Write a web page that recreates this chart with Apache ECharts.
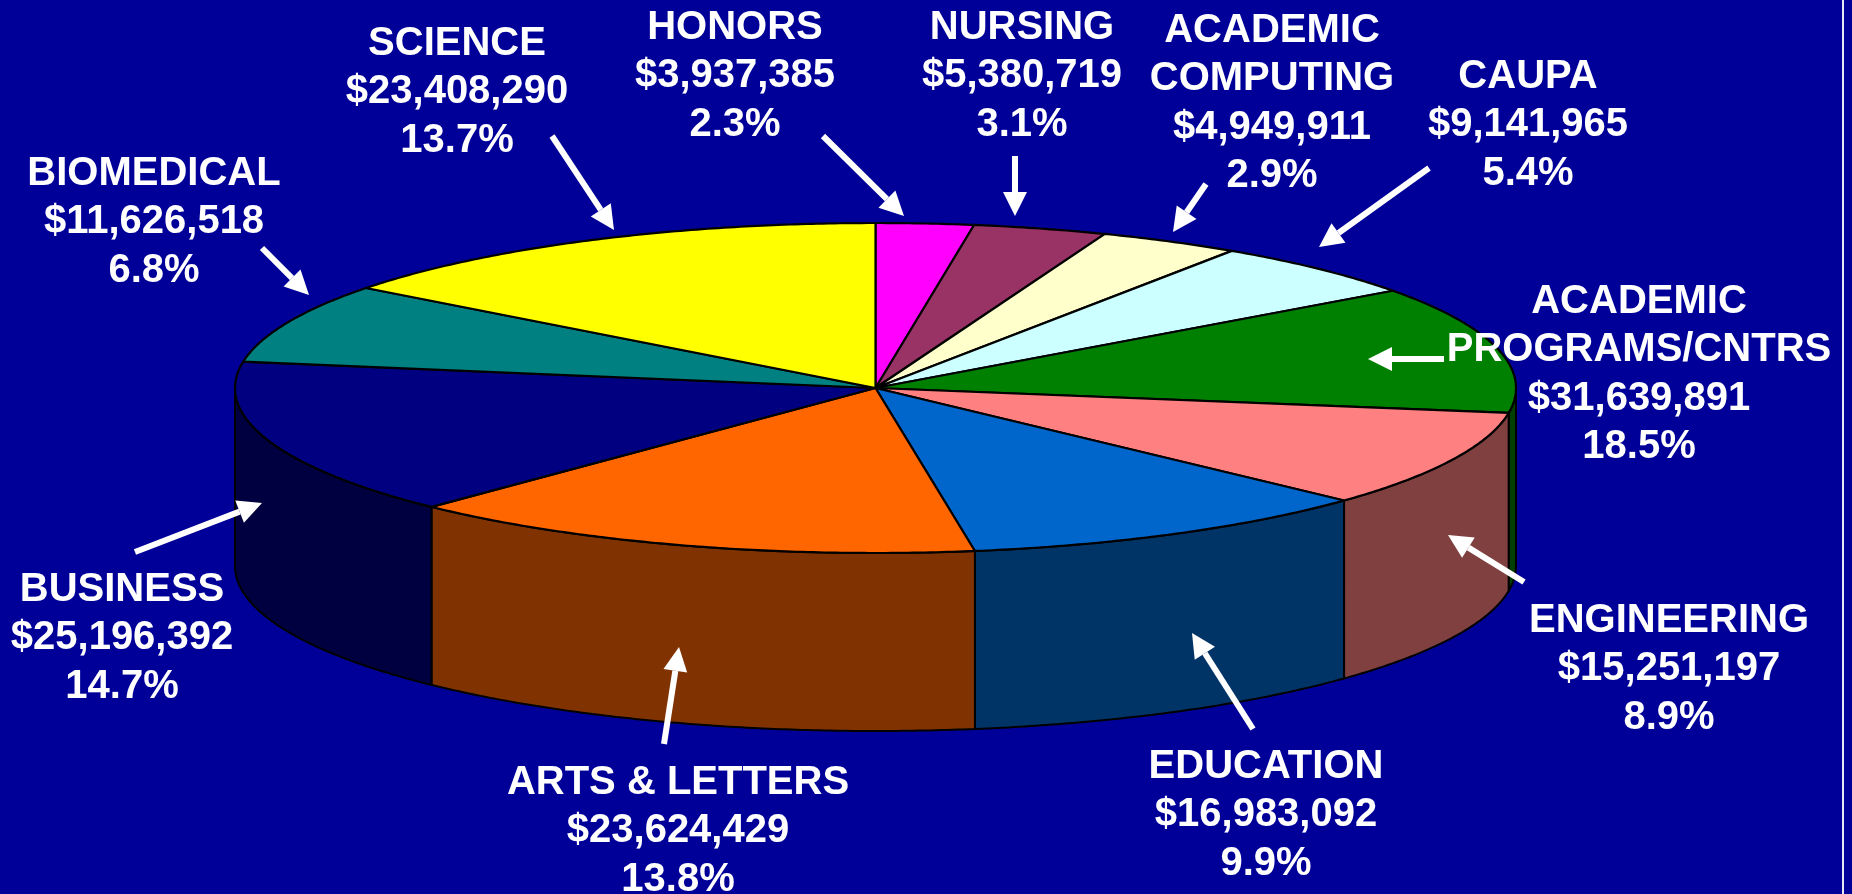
<!DOCTYPE html>
<html>
<head>
<meta charset="utf-8">
<style>html,body{margin:0;padding:0;background:#000099;overflow:hidden}#c{width:1852px;height:894px}</style>
<script src="https://cdn.jsdelivr.net/npm/echarts@6/dist/echarts.min.js"></script>
</head>
<body>
<div id="c"></div>
<script>
// Data, clockwise from 12 o'clock
const names = [['HONORS'],['NURSING'],['ACADEMIC','COMPUTING'],['CAUPA'],['ACADEMIC','PROGRAMS/CNTRS'],['ENGINEERING'],['EDUCATION'],['ARTS & LETTERS'],['BUSINESS'],['BIOMEDICAL'],['SCIENCE']];
const dollarLabels = ['$3,937,385','$5,380,719','$4,949,911','$9,141,965','$31,639,891','$15,251,197','$16,983,092','$23,624,429','$25,196,392','$11,626,518','$23,408,290'];
const percentLabels = ['2.3%','3.1%','2.9%','5.4%','18.5%','8.9%','9.9%','13.8%','14.7%','6.8%','13.7%'];
// Slice shares (%) as actually drawn in the picture
const sliceShares = [2.46,3.37,3.56,5.58,12.44,9.53,10.58,14.67,15.36,7.81,14.64];
const topColors = ['#FF00FF','#993366','#FFFFCC','#CCFFFF','#008000','#FF8080','#0066CC','#FF6600','#000080','#008080','#FFFF00'];
const wallColors = ['#800080','#4D1A33','#808066','#668080','#004000','#804040','#003366','#803300','#000040','#004040','#808000'];

// Layout
const cx = 875.5, cy = 388, rx = 640.5, ry = 165, depth = 178;
const labelAnchors = [[735,28],[1022,28],[1272,31],[1528,77],[1639,302],[1669,621],[1266,767],[678,783],[122,590],[154,174],[457,44]];
const arrows = [[823,136,904,216],[1015,156,1015,216],[1206,184,1173,232],[1429,168,1319,247],[1444,359,1368,359],[1524,582,1448,535],[1253,729,1192,633],[664,744,679,647],[135,552,262,503],[262,248,309,295],[552,136,614,230]];
const LINE = 48.3, FONT = 40;

const total = sliceShares.reduce((a,b)=>a+b,0);
let run = 0;
const spans = sliceShares.map(v => { const s = run; run += v; return [v, s/total*360, run/total*360]; });
const pt = (deg, dy) => { const t = deg*Math.PI/180; return [cx + rx*Math.sin(t), cy - ry*Math.cos(t) + (dy||0)]; };

function renderTop(params, api) {
  const a = api.value(1), b = api.value(2), pts = [[cx,cy]];
  for (let d = a; d < b; d += 0.5) pts.push(pt(d));
  pts.push(pt(b));
  return {type:'polygon', shape:{points:pts}, style:{fill:topColors[params.dataIndex], stroke:'#000', lineWidth:2.2, lineJoin:'round'}};
}
function renderWall(params, api) {
  const a = Math.max(api.value(1),90), b = Math.min(api.value(2),270);
  if (b <= a) return null;
  const upper = [], lower = [];
  for (let d = a; d < b; d += 0.5) { upper.push(pt(d)); lower.push(pt(d,depth)); }
  upper.push(pt(b)); lower.push(pt(b,depth));
  return {type:'polygon', shape:{points:upper.concat(lower.reverse())}, style:{fill:wallColors[params.dataIndex], stroke:'#000', lineWidth:2, lineJoin:'round'}};
}

const graphic = [];
// right-hand rule of the slide
graphic.push({type:'rect', shape:{x:1842,y:0,width:2,height:894}, style:{fill:'#E8E8F4'}, z:5});
// labels
names.forEach((n,i) => {
  const lines = n.concat([dollarLabels[i], percentLabels[i]]);
  lines.forEach((t,j) => graphic.push({type:'text', x:labelAnchors[i][0], y:labelAnchors[i][1]+j*LINE, z:20,
    style:{text:t, fill:'#fff', font:'bold '+FONT+'px "Liberation Sans", Arial, sans-serif', textAlign:'center', textVerticalAlign:'middle'}}));
});
// arrows
arrows.forEach(a => {
  const [x0,y0,x1,y1] = a, L = Math.hypot(x1-x0,y1-y0), ux=(x1-x0)/L, uy=(y1-y0)/L, hl=24, hw=12;
  const bx=x1-ux*hl, by=y1-uy*hl;
  graphic.push({type:'line', z:15, shape:{x1:x0,y1:y0,x2:bx,y2:by}, style:{stroke:'#fff', lineWidth:6}});
  graphic.push({type:'polygon', z:15, shape:{points:[[x1,y1],[bx-uy*hw,by+ux*hw],[bx+uy*hw,by-ux*hw]]}, style:{fill:'#fff'}});
});

const chart = echarts.init(document.getElementById('c'), null, {renderer:'canvas', width:1852, height:894});
chart.setOption({
  backgroundColor:'#000099',
  animation:false,
  graphic:{elements:graphic},
  series:[
    {type:'custom', coordinateSystem:'none', silent:true, z:2, renderItem:renderWall, data:spans},
    {type:'custom', coordinateSystem:'none', silent:true, z:3, renderItem:renderTop, data:spans}
  ]
});
</script>
</body>
</html>
